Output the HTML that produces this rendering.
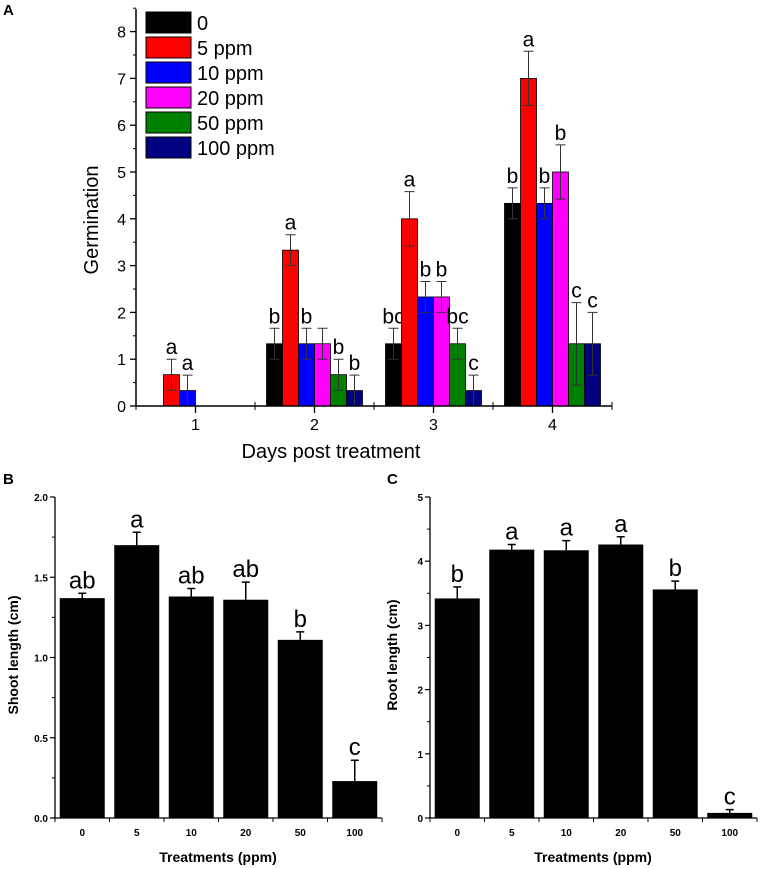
<!DOCTYPE html>
<html><head><meta charset="utf-8"><style>
body{margin:0;background:#fff;}
svg{display:block;font-family:"Liberation Sans",sans-serif;}
</style></head><body>
<svg id="fig" width="768" height="869" viewBox="0 0 768 869" xmlns="http://www.w3.org/2000/svg"></svg>
<script>
// Panel A data
const daysA = [1, 2, 3, 4];
const seriesNamesA = ["0", "5 ppm", "10 ppm", "20 ppm", "50 ppm", "100 ppm"];
const seriesColorsA = ["#000000", "#ff0000", "#0000ff", "#ff00ff", "#008000", "#000080"];
const germ0 = [0, 1.33, 1.33, 4.33];
const germ5 = [0.67, 3.33, 4, 7];
const germ10 = [0.33, 1.33, 2.33, 4.33];
const germ20 = [0, 1.33, 2.33, 5];
const germ50 = [0, 0.67, 1.33, 1.33];
const germ100 = [0, 0.33, 0.33, 1.33];
const err0 = [0, 0.33, 0.33, 0.33];
const err5 = [0.33, 0.33, 0.58, 0.58];
const err10 = [0.33, 0.33, 0.33, 0.33];
const err20 = [0, 0.33, 0.33, 0.58];
const err50 = [0, 0.33, 0.33, 0.88];
const err100 = [0, 0.33, 0.33, 0.67];
const lett0 = ["", "b", "bc", "b"];
const lett5 = ["a", "a", "a", "a"];
const lett10 = ["a", "b", "b", "b"];
const lett20 = ["", "", "b", "b"];
const lett50 = ["", "b", "bc", "c"];
const lett100 = ["", "b", "c", "c"];
const yTicksA = [0, 1, 2, 3, 4, 5, 6, 7, 8];
// Panel B/C data
const treatments = ["0", "5", "10", "20", "50", "100"];
const shoot = [1.37, 1.70, 1.38, 1.36, 1.11, 0.23];
const shootErr = [0.03, 0.08, 0.05, 0.11, 0.05, 0.13];
const shootLet = ["ab", "a", "ab", "ab", "b", "c"];
const shootTicks = ["0.0", "0.5", "1.0", "1.5", "2.0"];
const root = [3.42, 4.18, 4.17, 4.26, 3.56, 0.08];
const rootErr = [0.18, 0.08, 0.15, 0.12, 0.13, 0.05];
const rootLet = ["b", "a", "a", "a", "b", "c"];
const rootTicks = ["0", "1", "2", "3", "4", "5"];

const NS = "http://www.w3.org/2000/svg";
const svg = document.getElementById("fig");
function mk(tag, attrs, parent) {
  const e = document.createElementNS(NS, tag);
  for (const k in attrs) e.setAttribute(k, attrs[k]);
  (parent || svg).appendChild(e);
  return e;
}
function txt(s, attrs, parent) { const e = mk("text", attrs, parent); e.textContent = s; return e; }

// ---------- Panel A ----------
const gA = mk("g", {});


const ax0 = 136, ay0 = 406, ppu = 46.8;
const xA = d => ax0 + (d - 0.5) * 119;
const yA = v => ay0 - v * ppu;
const lblA = txt("A", {x: 3, y: 15, "font-size": 15, "font-weight": "bold"}, gA);


const allG = [germ0, germ5, germ10, germ20, germ50, germ100];
const allE = [err0, err5, err10, err20, err50, err100];
const allL = [lett0, lett5, lett10, lett20, lett50, lett100];
const bw = 16;
daysA.forEach((d, di) => {
  for (let s = 0; s < 6; s++) {
    const v = allG[s][di];
    const x = xA(d) + (s - 3) * bw;
    if (v > 0) {
      const r = mk("rect", {x: x, y: yA(v), width: bw, height: yA(0) - yA(v), fill: seriesColorsA[s], stroke: "#000", "stroke-width": 0.8}, gA);
      
      
      const e = allE[s][di];
      if (e > 0) {
        const cx = x + bw / 2;
        const eb = mk("path", {d: `M${cx},${yA(v - e)}V${yA(v + e)}M${cx - 5},${yA(v + e)}H${cx + 5}M${cx - 5},${yA(v - e)}H${cx + 5}`, stroke: "#333", "stroke-width": 1, fill: "none"}, gA);
        
        
      }
      const l = allL[s][di];
      if (l) {
        const t = txt(l, {x: cx0(x), y: yA(v + e) - 5, "font-size": 21, "text-anchor": "middle"}, gA);
        
        
      }
    }
  }
});
function cx0(x) { return x + bw / 2; }
// axes
const axA = mk("path", {d: `M${ax0},9V${ay0}H612`, stroke: "#000", "stroke-width": 1.5, fill: "none"}, gA);


yTicksA.forEach(v => {
  mk("line", {x1: ax0 - 6, x2: ax0, y1: yA(v), y2: yA(v), stroke: "#000", "stroke-width": 1.3}, gA);
  mk("line", {x1: ax0 - 3, x2: ax0, y1: yA(v + 0.5), y2: yA(v + 0.5), stroke: "#000", "stroke-width": 1}, gA);
  const t = txt(String(v), {x: ax0 - 10, y: yA(v) + 6, "font-size": 16, "text-anchor": "end"}, gA);
  
  
});
daysA.forEach(d => {
  mk("line", {x1: xA(d), x2: xA(d), y1: ay0, y2: ay0 + 7, stroke: "#000", "stroke-width": 1.3}, gA);
  mk("line", {x1: xA(d) + 59.5, x2: xA(d) + 59.5, y1: ay0 - 4, y2: ay0 + 4, stroke: "#000", "stroke-width": 1}, gA);
  const t = txt(String(d), {x: xA(d), y: 430, "font-size": 16, "text-anchor": "middle"}, gA);
  
  
});
mk("line", {x1: ax0 + 0, x2: ax0, y1: ay0, y2: ay0 + 4, stroke: "#000"}, gA);
const ytA = txt("Germination", {x: 0, y: 0, "font-size": 20, "text-anchor": "middle", transform: "translate(98,220) rotate(-90)"}, gA);


const xtA = txt("Days post treatment", {x: 331, y: 458, "font-size": 20, "text-anchor": "middle"}, gA);


seriesNamesA.forEach((n, i) => {
  const g = mk("g", {}, gA);
  
  
  mk("rect", {x: 146, y: 12 + i * 25, width: 45, height: 21, fill: seriesColorsA[i], stroke: "#000", "stroke-width": 1}, g);
  txt(n, {x: 197, y: 30 + i * 25, "font-size": 20}, g);
});

// ---------- Panels B & C ----------
function barPanel(name, label, lx, ly, x0, ymax, ticks, minorStep, vals, errs, lets, ytitle, ytx) {
  const g = mk("g", {});
  
  
  const y0 = 818, ytop = 497, band = 54.5;
  const y = v => y0 - v / ymax * (y0 - ytop);
  const L = txt(label, {x: lx, y: ly, "font-size": 15, "font-weight": "bold"}, g);
  
  
  vals.forEach((v, i) => {
    const cx = x0 + band * (i + 0.5);
    const r = mk("rect", {x: cx - 22.5, y: y(v), width: 45, height: y0 - y(v), fill: "#000"}, g);
    
    
    const top = y(v + errs[i]);
    const eb = mk("path", {d: `M${cx},${y(v)}V${top}M${cx - 4},${top}H${cx + 4}`, stroke: "#000", "stroke-width": 1.5, fill: "none"}, g);
    
    
    const t = txt(lets[i], {x: cx, y: top - 5, "font-size": 24, "text-anchor": "middle"}, g);
    
    
    const tl = txt(treatments[i], {x: cx, y: 836, "font-size": 10, "font-weight": "bold", "text-anchor": "middle"}, g);
    
    
  });
  const ax = mk("path", {d: `M${x0},${ytop}V${y0}H${x0 + band * 6}`, stroke: "#000", "stroke-width": 1.3, fill: "none"}, g);
  
  
  for (let k = 0; k <= 6; k++) mk("line", {x1: x0 + band * k, x2: x0 + band * k, y1: y0, y2: y0 + 4, stroke: "#000"}, g);
  ticks.forEach(s => {
    const v = parseFloat(s);
    mk("line", {x1: x0 - 5, x2: x0, y1: y(v), y2: y(v), stroke: "#000", "stroke-width": 1.2}, g);
    if (v + minorStep < ymax) mk("line", {x1: x0 - 3, x2: x0, y1: y(v + minorStep), y2: y(v + minorStep), stroke: "#000"}, g);
    const t = txt(s, {x: x0 - 7, y: y(v) + 4, "font-size": 10, "font-weight": "bold", "text-anchor": "end"}, g);
    
    
  });
  const yt = txt(ytitle, {x: 0, y: 0, "font-size": 14, "font-weight": "bold", "text-anchor": "middle", transform: `translate(${ytx},655) rotate(-90)`}, g);
  
  
  const xt = txt("Treatments (ppm)", {x: x0 + 163, y: 862, "font-size": 14, "font-weight": "bold", "text-anchor": "middle"}, g);
  
  
}
barPanel("panel-b", "B", 3, 484, 55, 2.0, shootTicks, 0.25, shoot, shootErr, shootLet, "Shoot length (cm)", 18);
barPanel("panel-c", "C", 387, 484, 430, 5, rootTicks, 0.5, root, rootErr, rootLet, "Root length (cm)", 397);
</script>
</body></html>
